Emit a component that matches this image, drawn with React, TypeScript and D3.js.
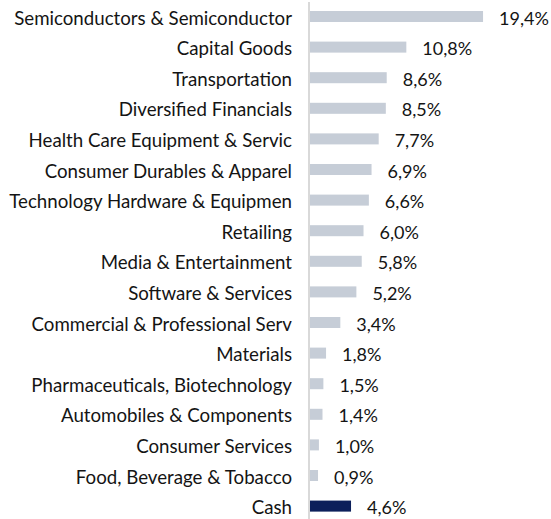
import React from "react";
import * as d3 from "d3";

const categories = [
  "Semiconductors & Semiconductor",
  "Capital Goods",
  "Transportation",
  "Diversified Financials",
  "Health Care Equipment & Servic",
  "Consumer Durables & Apparel",
  "Technology Hardware & Equipmen",
  "Retailing",
  "Media & Entertainment",
  "Software & Services",
  "Commercial & Professional Serv",
  "Materials",
  "Pharmaceuticals, Biotechnology",
  "Automobiles & Components",
  "Consumer Services",
  "Food, Beverage & Tobacco",
  "Cash",
];
const values = [19.4, 10.8, 8.6, 8.5, 7.7, 6.9, 6.6, 6.0, 5.8, 5.2, 3.4, 1.8, 1.5, 1.4, 1.0, 0.9, 4.6];
const highlight = ["Cash"];

const W = 551;
const H = 519;

export default function App() {
  const x = d3.scaleLinear().domain([0, 20]).range([310, 310 + 178.4]);
  const y = d3
    .scaleBand<string>()
    .domain(categories)
    .range([1.2, 521.4])
    .paddingInner(0.64)
    .paddingOuter(0.32);
  const fmt = (v: number) => v.toFixed(1).replace(".", ",") + "%";
  const font = "Lato, 'Open Sans', sans-serif";
  return (
    <svg
      width={W}
      height={H}
      style={{ position: "absolute", left: 0, top: 0, background: "#fff" }}
      fontFamily={font}
    >
      <line x1={309} x2={309} y1={2} y2={H} stroke="#d9d9d9" strokeWidth={2} />
      {categories.map((c, i) => {
        const yy = y(c)!;
        const bw = y.bandwidth();
        const cy = yy + bw / 2 + 1;
        const v = values[i];
        return (
          <g key={c}>
            <rect
              x={x(0)}
              y={yy}
              width={x(v) - x(0)}
              height={bw}
              fill={highlight.includes(c) ? "#0c1f5b" : "#c6cdd7"}
            />
            <text x={292} y={cy} textAnchor="end" dominantBaseline="central" fontSize={18.7} fill="#141414">
              {c}
            </text>
            <text x={x(v) + 16} y={cy} dominantBaseline="central" fontSize={18} fill="#141414">
              {fmt(v)}
            </text>
          </g>
        );
      })}
    </svg>
  );
}
